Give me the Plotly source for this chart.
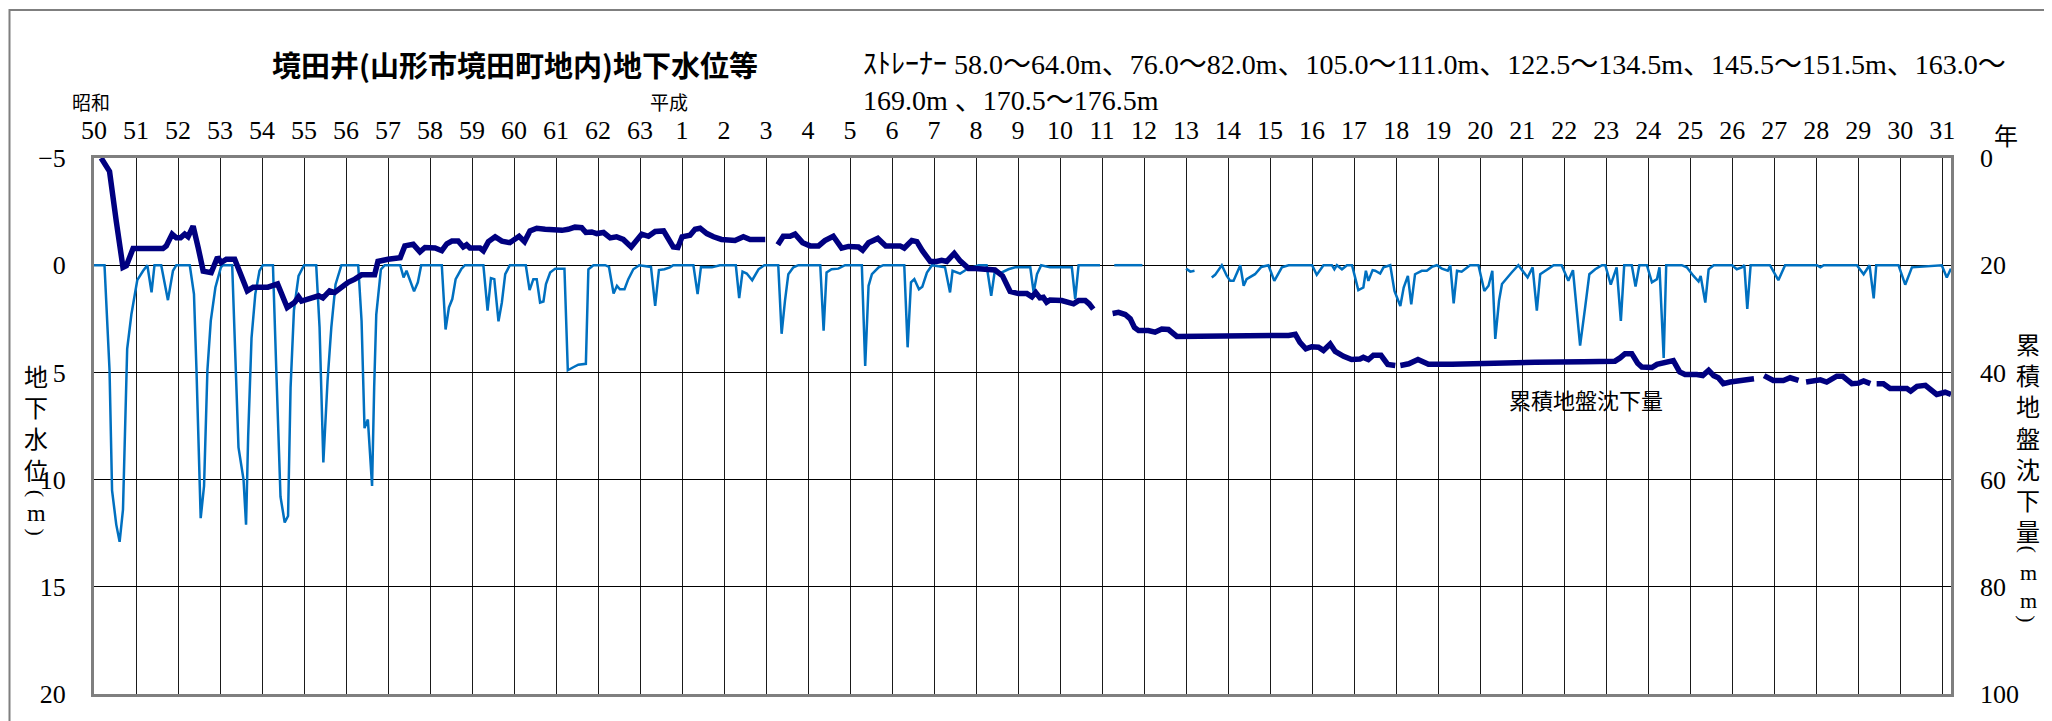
import plotly.graph_objects as go

# ---------------- data ----------------
year_ticks = list(range(1975, 2020))
year_labels = [str(y) for y in range(50, 64)] + [str(y) for y in range(1, 32)]

left_ticks = [-5, 0, 5, 10, 15, 20]
right_ticks = [0, 20, 40, 60, 80, 100]

# groundwater level (m below ground), None = missing
gw_year = [
    1975.00, 1975.25, 1975.37, 1975.43, 1975.53, 1975.61, 1975.69, 1975.75, 1975.79, 1975.89,
    1976.03, 1976.17, 1976.27, 1976.37, 1976.44, 1976.60, 1976.76, 1976.88, 1976.96, 1977.28,
    1977.38, 1977.44, 1977.54, 1977.62, 1977.70, 1977.78, 1977.89, 1978.02, 1978.07, 1978.29,
    1978.37, 1978.44, 1978.56, 1978.62, 1978.67, 1978.75, 1978.84, 1978.94, 1979.02, 1979.26,
    1979.34, 1979.44, 1979.54, 1979.62, 1979.68, 1979.76, 1979.87, 1980.00, 1980.29, 1980.37,
    1980.46, 1980.56, 1980.65, 1980.75, 1980.89, 1981.29, 1981.37, 1981.44, 1981.52, 1981.62,
    1981.67, 1981.72, 1981.83, 1981.92, 1982.29, 1982.37, 1982.44, 1982.52, 1982.62, 1982.71,
    1982.79, 1983.28, 1983.37, 1983.45, 1983.53, 1983.61, 1983.74, 1983.83, 1984.27, 1984.37,
    1984.45, 1984.53, 1984.63, 1984.71, 1984.79, 1984.90, 1985.28, 1985.37, 1985.46, 1985.54,
    1985.62, 1985.70, 1985.76, 1985.86, 1985.98, 1986.20, 1986.28, 1986.41, 1986.53, 1986.71,
    1986.77, 1986.89, 1987.17, 1987.26, 1987.37, 1987.45, 1987.52, 1987.63, 1987.72, 1987.84,
    1987.98, 1988.26, 1988.36, 1988.45, 1988.58, 1988.71, 1988.79, 1989.27, 1989.37, 1989.45,
    1989.71, 1989.90, 1990.28, 1990.36, 1990.44, 1990.54, 1990.67, 1990.82, 1990.96, 1991.29,
    1991.37, 1991.45, 1991.53, 1991.65, 1991.77, 1992.29, 1992.37, 1992.44, 1992.56, 1992.72,
    1992.88, 1993.28, 1993.36, 1993.44, 1993.52, 1993.68, 1993.79, 1994.29, 1994.37, 1994.45,
    1994.53, 1994.64, 1994.72, 1994.83, 1994.95, 1995.26, 1995.38, 1995.44, 1995.62, 1995.78,
    1995.94, 1996.06, 1996.25, 1996.36, 1996.44, 1996.61, 1996.77, 1996.93, 1997.29, 1997.37,
    1997.45, 1997.55, 1997.76, 1998.28, 1998.36, 1998.44, 1998.95, 1999.10, 1999.29, 1999.96,
    2000.50, 2001.00, 2001.10, 2001.20, 2001.40, 2001.61, 2001.69, 2001.85, 2001.97, 2002.05,
    2002.13, 2002.29, 2002.37, 2002.44, 2002.64, 2002.79, 2002.96, 2003.10, 2003.24, 2003.28,
    2003.44, 2004.00, 2004.11, 2004.27, 2004.47, 2004.53, 2004.59, 2004.71, 2004.83, 2004.95,
    2005.10, 2005.22, 2005.28, 2005.34, 2005.44, 2005.50, 2005.62, 2005.70, 2005.86, 2005.96,
    2006.10, 2006.18, 2006.28, 2006.36, 2006.45, 2006.61, 2006.73, 2006.85, 2006.97, 2007.09,
    2007.23, 2007.29, 2007.37, 2007.45, 2007.56, 2007.76, 2007.96, 2008.10, 2008.20, 2008.29,
    2008.36, 2008.45, 2008.52, 2008.61, 2008.75, 2008.91, 2009.03, 2009.13, 2009.25, 2009.35,
    2009.43, 2009.55, 2009.75, 2009.94, 2010.10, 2010.21, 2010.38, 2010.50, 2010.60, 2010.74,
    2010.90, 2010.98, 2011.11, 2011.25, 2011.35, 2011.43, 2011.61, 2011.70, 2011.79, 2011.97,
    2012.09, 2012.21, 2012.27, 2012.37, 2012.43, 2012.80, 2012.92, 2013.08, 2013.20, 2013.25,
    2013.36, 2013.44, 2013.56, 2014.00, 2014.11, 2014.23, 2014.29, 2014.36, 2014.44, 2014.90,
    2015.10, 2015.26, 2016.02, 2016.10, 2016.18, 2016.97, 2017.13, 2017.27, 2017.37, 2017.43,
    2017.96, 2018.12, 2018.28, 2018.99, 2019.11, 2019.21,
]
gw_level = [
    0, 0, 4.9, 10.5, 12.1, 12.9, 11.4, 7.2, 3.9, 2.3,
    0.7, 0.26, 0, 1.27, 0, 0, 1.63, 0.26, 0, 0,
    1.35, 4.9, 11.8, 10.3, 4.9, 2.6, 1.04, 0.1, 0, 0,
    4.9, 8.5, 10.0, 12.1, 8.0, 3.4, 1.35, 0.26, 0, 0,
    4.9, 10.8, 12.0, 11.7, 5.7, 2.1, 0.5, 0, 0, 2.9,
    9.2, 5.4, 2.9, 0.9, 0, 0, 2.6, 7.6, 7.2, 10.3,
    5.7, 2.3, 0.2, 0, 0, 0.57, 0.26, 0.65, 1.22, 0.8,
    0, 0, 3.0, 1.97, 1.58, 0.65, 0.19, 0, 0, 2.12,
    0.6, 0.65, 2.62, 1.74, 0.42, 0, 0, 1.16, 0.65, 0.65,
    1.74, 1.69, 0.88, 0.34, 0.16, 0.16, 4.9, 4.76, 4.64, 4.6,
    0.19, 0, 0, 0.08, 1.32, 0.96, 1.12, 1.12, 0.65, 0.19,
    0, 0.08, 1.9, 0.23, 0.19, 0.1, 0, 0, 1.35, 0.08,
    0.1, 0, 0, 1.53, 0.3, 0.39, 0.7, 0.19, 0, 0,
    3.2, 1.66, 0.42, 0.1, 0, 0, 3.05, 0.34, 0.19, 0.16,
    0, 0, 4.7, 0.96, 0.42, 0.1, 0, 0, 3.83, 0.8,
    0.65, 1.12, 1.0, 0.34, 0, 0.1, 1.27, 0.26, 0.39, 0.19,
    0.1, 0, 0, 1.43, 0.34, 0.34, 0.19, 0.1, 0.1, 1.27,
    0.42, 0, 0.1, 0.1, 1.58, 0, 0, None, 0, 0,
    None, 0.16, 0.3, 0.26, None, 0.57, 0.45, 0, 0.5, 0.73,
    0.73, 0, 0.96, 0.65, 0.42, 0.08, 0, 0.73, 0.19, 0.1,
    0, 0, 0.45, 0, 0, 0.19, 0, 0.19, 0, 0,
    1.16, 1.04, 0.26, 0.73, 0.23, 0.26, 0.39, 0.1, 0, 1.2,
    1.9, 1.04, 0.5, 1.83, 0.42, 0.26, 0.26, 0.08, 0, 0.16,
    0.26, 0, 1.78, 0.26, 0.3, 0, 0, 1.2, 0.96, 0.26,
    3.44, 1.66, 0.88, 0.65, 0.34, 0, 0.34, 0.57, 0.1, 2.12,
    0.42, 0.26, 0, 0, 0.73, 0.23, 3.75, 1.97, 0.42, 0.19,
    0, 0, 0.91, 0.1, 2.6, 0, 0, 1.0, 0, 0,
    0.8, 0.65, 0.1, 4.33, 0, 0, 0.1, 0.5, 0.76, 0.5,
    1.74, 0.19, 0, 0, 0.19, 0.1, 0, 2.04, 0, 0,
    0.7, 0, 0, 0.1, 0, 0, 0.42, 0, 1.55, 0,
    0, 0.91, 0.1, 0, 0.57, 0.16,
]

# cumulative ground subsidence (mm), None = missing
sub_year = [
    1975.17, 1975.37, 1975.53, 1975.69, 1975.77, 1975.93, 1976.64, 1976.72, 1976.86, 1976.96,
    1977.06, 1977.16, 1977.24, 1977.36, 1977.48, 1977.60, 1977.79, 1977.94, 1978.03, 1978.15,
    1978.35, 1978.51, 1978.65, 1978.79, 1979.14, 1979.37, 1979.60, 1979.78, 1979.87, 1979.94,
    1980.25, 1980.35, 1980.45, 1980.61, 1980.73, 1980.89, 1981.05, 1981.21, 1981.37, 1981.68,
    1981.76, 1982.00, 1982.29, 1982.40, 1982.60, 1982.76, 1982.88, 1983.12, 1983.28, 1983.40,
    1983.52, 1983.67, 1983.79, 1983.87, 1983.95, 1984.19, 1984.27, 1984.39, 1984.55, 1984.71,
    1984.90, 1985.12, 1985.25, 1985.38, 1985.54, 1985.74, 1986.14, 1986.29, 1986.45, 1986.61,
    1986.71, 1986.85, 1986.97, 1987.13, 1987.29, 1987.44, 1987.60, 1987.79, 1987.88, 1988.04,
    1988.20, 1988.36, 1988.56, 1988.68, 1988.79, 1988.90, 1989.00, 1989.19, 1989.31, 1989.43,
    1989.59, 1989.75, 1989.94, 1990.26, 1990.46, 1990.62, 1990.98, 1991.10, 1991.28, 1991.41,
    1991.57, 1991.69, 1991.87, 1992.05, 1992.25, 1992.40, 1992.60, 1992.80, 1992.96, 1993.20,
    1993.30, 1993.44, 1993.66, 1993.85, 1994.19, 1994.29, 1994.47, 1994.59, 1994.72, 1994.91,
    1995.06, 1995.18, 1995.30, 1995.48, 1995.62, 1995.82, 1995.98, 1996.14, 1996.45, 1996.63,
    1996.81, 1997.01, 1997.21, 1997.33, 1997.42, 1997.52, 1997.60, 1997.68, 1997.76, 1998.04,
    1998.20, 1998.32, 1998.44, 1998.60, 1998.69, 1998.79, 1999.00, 1999.25, 1999.39, 1999.55,
    1999.67, 1999.77, 1999.87, 2000.10, 2000.26, 2000.42, 2000.58, 2000.78, 2001.37, 2002.17,
    2002.96, 2003.44, 2003.60, 2003.71, 2003.85, 2003.99, 2004.15, 2004.27, 2004.43, 2004.55,
    2004.75, 2004.94, 2005.14, 2005.22, 2005.34, 2005.46, 2005.64, 2005.80, 2005.98, 2006.04,
    2006.10, 2006.30, 2006.52, 2006.77, 2007.33, 2007.72, 2008.52, 2009.31, 2010.46, 2011.21,
    2011.33, 2011.45, 2011.61, 2011.75, 2011.85, 2012.09, 2012.21, 2012.40, 2012.60, 2012.75,
    2012.88, 2013.16, 2013.30, 2013.44, 2013.56, 2013.67, 2013.79, 2013.95, 2014.19, 2014.35,
    2014.52, 2014.64, 2014.76, 2014.98, 2015.22, 2015.38, 2015.58, 2015.67, 2015.76, 2015.94,
    2016.10, 2016.25, 2016.49, 2016.63, 2016.85, 2017.01, 2017.13, 2017.29, 2017.36, 2017.44,
    2017.60, 2017.76, 2017.96, 2018.16, 2018.25, 2018.40, 2018.60, 2018.75, 2018.87, 2019.07,
    2019.21,
]
sub_mm = [
    0.0, 2.5, 11.8, 20.4, 20.1, 16.9, 16.9, 16.4, 14.2, 14.9,
    14.9, 14.2, 14.7, 12.7, 16.7, 21.1, 21.4, 18.5, 19.5, 18.9,
    18.9, 22.3, 24.8, 24.1, 24.1, 23.5, 27.9, 26.9, 25.9, 26.7,
    26.1, 25.7, 26.1, 24.8, 25.1, 24.1, 23.2, 22.6, 21.8, 21.8,
    19.3, 18.9, 18.6, 16.4, 16.1, 17.5, 16.7, 16.8, 17.3, 16.0,
    15.5, 15.5, 16.6, 16.2, 16.8, 16.8, 17.3, 15.6, 14.7, 15.5,
    15.8, 14.6, 15.6, 13.6, 13.1, 13.3, 13.5, 13.3, 12.9, 13.0,
    13.9, 13.8, 14.1, 13.9, 14.9, 14.7, 15.2, 16.6, 15.6, 14.2,
    14.6, 13.7, 13.6, 15.2, 16.6, 16.7, 14.7, 14.4, 13.3, 13.1,
    14.1, 14.7, 15.2, 15.4, 14.7, 15.2, 15.2, None, 16.2, 14.6,
    14.6, 14.2, 15.8, 16.4, 16.4, 15.4, 14.6, 16.8, 16.5, 16.6,
    17.2, 15.8, 15.0, 16.4, 16.4, 16.8, 15.4, 15.6, 17.3, 19.3,
    19.3, 19.1, 19.3, 17.8, 19.2, 20.6, 20.6, 20.7, 20.9, 22.0,
    24.9, 25.3, 25.3, 25.9, 25.1, 26.1, 26.0, 26.9, 26.5, 26.6,
    26.9, 27.2, 26.6, 26.6, 27.2, 28.2, None, 29.0, 28.8, 29.2,
    30.0, 31.6, 32.2, 32.2, 32.5, 31.9, 32.0, 33.3, 33.3, 33.3,
    33.2, 33.1, 32.9, 34.4, 35.6, 35.2, 35.3, 35.9, 34.7, 36.1,
    37.0, 37.6, 37.5, 37.2, 37.6, 36.8, 36.8, 38.5, 38.7, None,
    38.7, 38.4, 37.6, 38.5, 38.5, 38.4, 38.3, 38.1, 38.0, 37.9,
    37.3, 36.5, 36.5, 38.3, 39.0, 39.1, 38.5, 38.1, 37.8, 39.9,
    40.4, 40.4, 40.6, 39.6, 40.6, 41.0, 42.1, 41.8, 41.5, 41.2,
    41.2, None, 40.6, 41.5, 41.5, 41.0, 41.5, None, 41.8, 41.6,
    41.4, 41.8, 40.7, 40.7, 42.1, 42.0, 41.6, 42.1, None, 42.1,
    42.1, 43.0, 43.0, 43.0, 43.5, 42.6, 42.4, 43.5, 44.1, 43.7,
    44.1,
]

# ---------------- layout geometry ----------------
# The html page has an 8px body margin, so the figure is drawn 8px smaller
# and every page position below is shifted by that offset.
PAGE_OFF = 8
W, H = 2052 - PAGE_OFF, 721 - PAGE_OFF
PLOT_X0, PLOT_X1, PLOT_Y0, PLOT_Y1 = 94, 1951, 158, 696   # page pixels
L, T = PLOT_X0 - PAGE_OFF, PLOT_Y0 - PAGE_OFF
R, B = W - (PLOT_X1 - PAGE_OFF), H - (PLOT_Y1 - PAGE_OFF)
PW, PH = PLOT_X1 - PLOT_X0, PLOT_Y1 - PLOT_Y0


def xp(px):
    return (px - PLOT_X0) / PW


def yp(py):
    return (PLOT_Y1 - py) / PH


CJK = "Noto Sans CJK JP"
SERIF = "Liberation Serif, Times New Roman, serif"

fig = go.Figure()
fig.add_trace(go.Scatter(
    x=gw_year, y=gw_level, mode="lines", yaxis="y",
    line=dict(color="#0070C0", width=2.5), connectgaps=False,
    showlegend=False, hoverinfo="x+y",
))
fig.add_trace(go.Scatter(
    x=sub_year, y=sub_mm, mode="lines", yaxis="y2",
    line=dict(color="#000080", width=5.5), connectgaps=False,
    showlegend=False, hoverinfo="x+y",
))

tickfont = dict(family=SERIF, size=26, color="black")

fig.update_layout(
    width=W, height=H,
    margin=dict(l=L, r=R, t=T, b=B, pad=0),
    paper_bgcolor="white", plot_bgcolor="white",
    showlegend=False,
    xaxis=dict(
        side="top", range=[1975, 2019.21],
        tickmode="array", tickvals=year_ticks, ticktext=year_labels,
        showgrid=True, gridcolor="#1a1a1a", gridwidth=1,
        zeroline=False, ticks="", tickfont=tickfont,
        showline=True, linecolor="#7f7f7f", linewidth=3, mirror=True,
        ticklabelstandoff=6,
    ),
    yaxis=dict(
        range=[20, -5], tickmode="array", tickvals=left_ticks,
        showgrid=True, gridcolor="#000000", gridwidth=1.2,
        zeroline=False, ticks="", tickfont=tickfont,
        showline=True, linecolor="#7f7f7f", linewidth=3, mirror=True,
        ticklabelstandoff=20,
    ),
    yaxis2=dict(
        overlaying="y", side="right", range=[100, 0],
        tickmode="array", tickvals=right_ticks,
        showgrid=False, zeroline=False, ticks="", tickfont=tickfont,
        showline=False, ticklabelstandoff=28,
    ),
)

annotations = []


def ann(text, px, py, size, family=CJK, xanchor="center", yanchor="middle",
        weight=None, angle=0):
    f = dict(family=family, size=size, color="black")
    if weight:
        f["weight"] = weight
    annotations.append(dict(
        text=text, x=xp(px), y=yp(py), xref="paper", yref="paper",
        xanchor=xanchor, yanchor=yanchor, showarrow=False, font=f,
        textangle=angle,
    ))


# title and strainer note
ann("境田井(山形市境田町地内)地下水位等", 515, 64, 29, weight="bold")
ann("ｽﾄﾚｰﾅｰ 58.0～64.0m、76.0～82.0m、105.0～111.0m、122.5～134.5m、145.5～151.5m、163.0～",
    861, 64, 28, family=SERIF.split(",")[0] + ", " + CJK, xanchor="left")
ann("169.0m 、170.5～176.5m", 861, 100, 28, family=SERIF.split(",")[0] + ", " + CJK,
    xanchor="left")

# era labels and year unit
ann("昭和", 91, 101, 19)
ann("平成", 669, 101, 19)
ann("年", 2006, 134, 24)

# series label
ann("累積地盤沈下量", 1586, 400, 22)

# left axis title (vertical)
ann("<br>".join("地下水位"), 36, 423, 24)
ann("(", 36, 494, 22, family=SERIF, angle=90)
ann("m", 36, 514, 24, family=SERIF)
ann(")", 36, 533, 22, family=SERIF, angle=90)

# right axis title (vertical)
ann("<br>".join("累積地盤沈下量"), 2028, 438, 24)
ann("(", 2028, 550, 22, family=SERIF, angle=90)
ann("m", 2028, 574, 22, family=SERIF)
ann("m", 2028, 602, 22, family=SERIF)
ann(")", 2028, 620, 22, family=SERIF, angle=90)

fig.update_layout(annotations=annotations)

# outer picture frame (kept inside the drawable figure area)
fig.add_shape(
    type="rect", xref="paper", yref="paper",
    x0=xp(PAGE_OFF + 1.5), x1=xp(2047), y0=yp(760), y1=yp(PAGE_OFF + 1.5),
    line=dict(color="#7f7f7f", width=2), fillcolor="rgba(0,0,0,0)", layer="above",
)

fig.write_html("out.html")
